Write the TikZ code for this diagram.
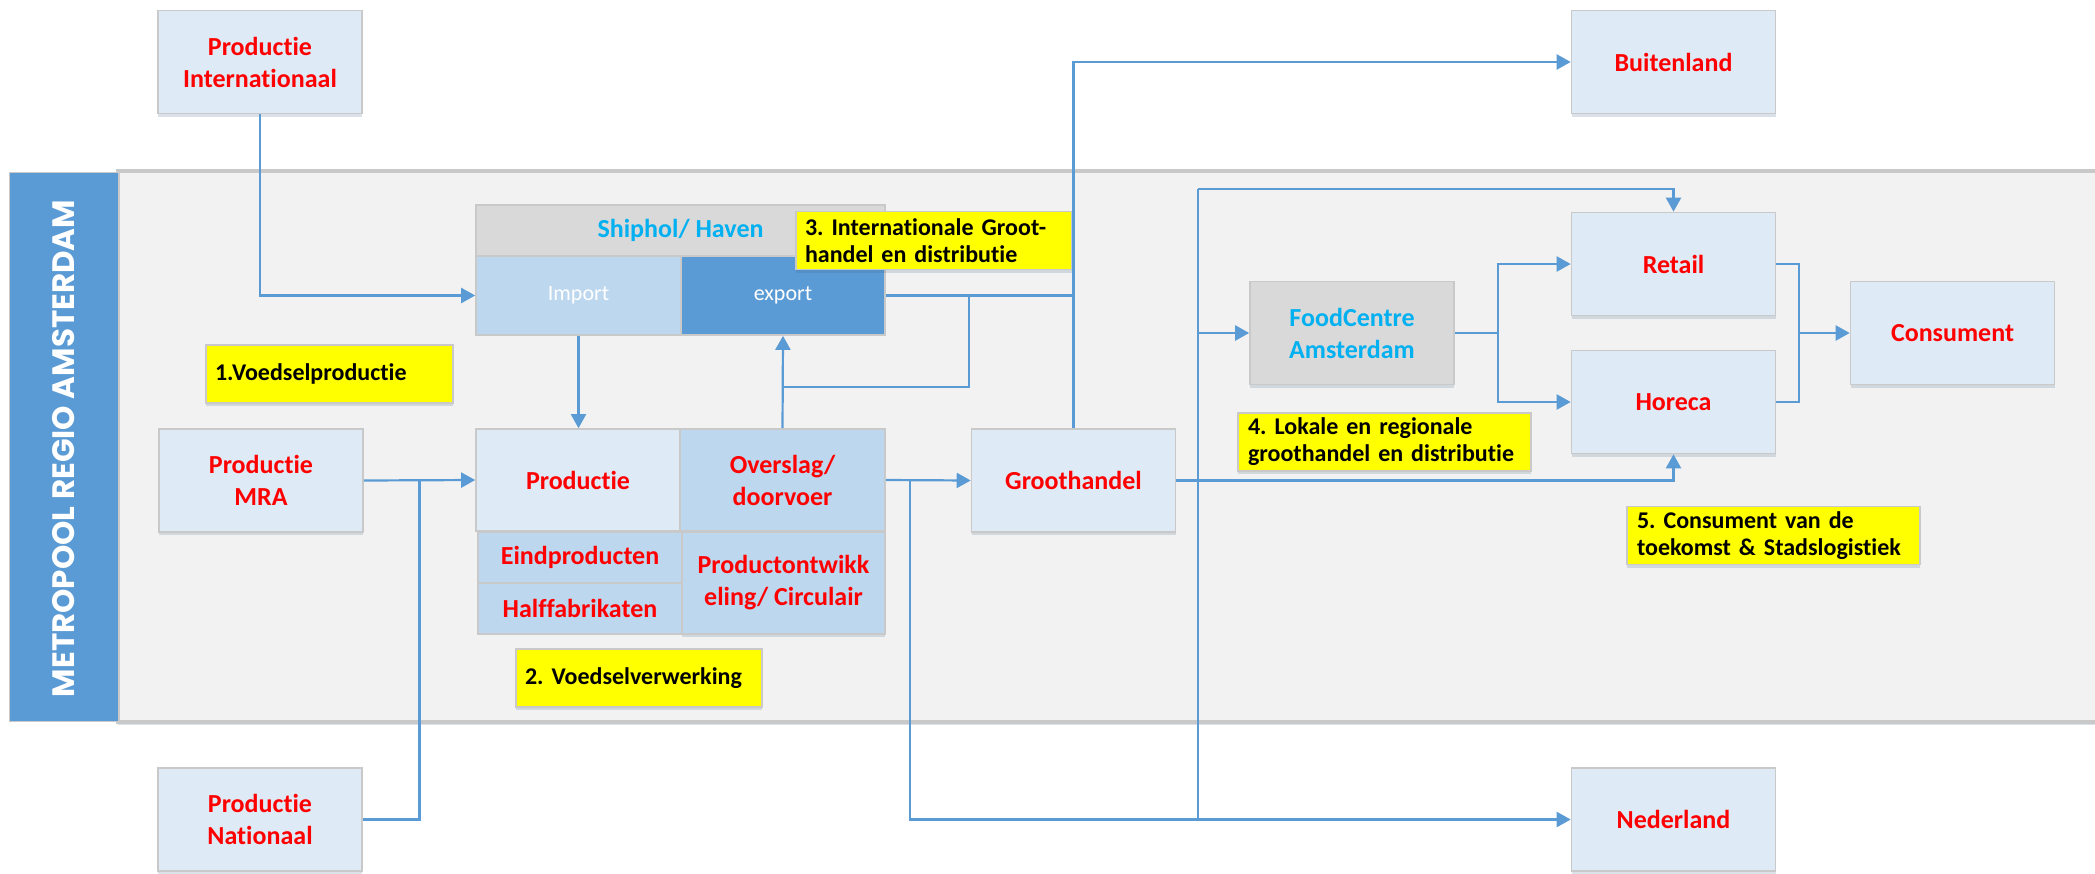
\documentclass[tikz,border=0pt]{standalone}
\usepackage{fontspec}
\setmainfont{Carlito}[Ligatures={NoCommon}]
\newfontfamily\bandfont{Poppins}
\usetikzlibrary{arrows.meta,shadows,calc}
\frenchspacing

\definecolor{boxfill}{HTML}{DEEAF6}
\definecolor{midblue}{HTML}{BDD7EE}
\definecolor{accblue}{HTML}{5B9BD5}
\definecolor{hdrgrey}{HTML}{D9D9D9}
\definecolor{edgegrey}{HTML}{C9C9C9}
\definecolor{regiongrey}{HTML}{F2F2F2}
\definecolor{txtblue}{HTML}{00B0F0}
\definecolor{txtred}{HTML}{FF0000}
\definecolor{labelyellow}{HTML}{FFFF00}

\tikzset{
  shade/.style={drop shadow={shadow xshift=0pt,shadow yshift=-3pt,opacity=0.18,fill=accblue!60!black}},
  cell/.style={draw=edgegrey, line width=1.6pt, inner sep=0pt, align=center,
    font=\fontsize{26}{32}\selectfont\bfseries, text=txtred},
  unit/.style={cell, shade, fill=boxfill, minimum width=204pt, minimum height=103pt},
  lightcell/.style={cell, fill=boxfill},
  midcell/.style={cell, fill=midblue},
  greycell/.style={cell, fill=hdrgrey, text=txtblue},
  portcell/.style={cell, font=\fontsize{22}{28}\selectfont, text=white},
  note/.style={draw=edgegrey, line width=1.2pt, fill=labelyellow, shade, inner ysep=0pt,
    align=left, minimum height=58pt, font=\fontsize{24}{27}\selectfont\bfseries, text=black},
  conn/.style={draw=accblue, line width=2.2pt},
  arr/.style={conn, -{Triangle[length=14pt,width=15pt]}}
}

\begin{document}
\begin{tikzpicture}[x=1pt,y=-1pt]
  \useasboundingbox (0,0) rectangle (2095,873);
  \fill[white] (0,0) rectangle (2095,873);

  % metropolitan region panel and its side band
  \node[draw=edgegrey, line width=3.5pt, fill=regiongrey, shade, inner sep=0pt,
        minimum width=1992pt, minimum height=551pt] (region) at (1114,446.5) {};
  \node[draw=edgegrey, line width=1pt, fill=accblue, inner sep=0pt,
        minimum width=109pt, minimum height=549pt] (band) at (63.5,446.5) {};
  \node[rotate=90, text=white, inner sep=0pt] (bandtxt) at (64,448.5)
        {\resizebox{497pt}{!}{\bandfont\bfseries METROPOOL REGIO AMSTERDAM}};

  % outer producers and destinations
  \node[unit] (pint) at (260,62)     {Productie\\Internationaal};
  \node[unit] (pmra) at (261,480.5)  {Productie\\MRA};
  \node[unit] (pnat) at (260,819.5)  {Productie\\Nationaal};
  \node[unit] (buit) at (1673.5,62)  {Buitenland};
  \node[unit] (ned)  at (1673.5,819.5) {Nederland};

  % airport / port block
  \node[greycell, shade, minimum width=409pt, minimum height=51pt] (hub) at (680.5,230.5) {Shiphol/ Haven};
  \node[portcell, fill=midblue, minimum width=205pt, minimum height=79pt] (imp) at (578.5,295.5) {Import};
  \node[portcell, fill=accblue, minimum width=204pt, minimum height=79pt] (exp) at (783,295.5) {export};

  % processing block
  \node[lightcell, minimum width=204pt, minimum height=102pt] (prod) at (578,480) {Productie};
  \node[midcell, minimum width=205pt, minimum height=102pt] (over) at (782.5,480) {Overslag/\\doorvoer};
  \node[midcell, minimum width=204pt, minimum height=51pt] (eind) at (580,557.5) {Eindproducten};
  \node[midcell, minimum width=204pt, minimum height=51pt] (half) at (580,608.5) {Halffabrikaten};
  \node[midcell, shade, minimum width=203pt, minimum height=102pt] (pont) at (783.5,583) {Productontwikk\\eling/ Circulair};

  % wholesale and consumption chain
  \node[unit] (groot) at (1073.5,480.5) {Groothandel};
  \node[greycell, shade, minimum width=204pt, minimum height=103pt] (fc) at (1352,333) {FoodCentre\\Amsterdam};
  \node[unit] (ret)  at (1673.5,264) {Retail};
  \node[unit] (hor)  at (1673.5,402) {Horeca};
  \node[unit] (cons) at (1952.5,333) {Consument};

  % numbered stage labels
  \node[note, text width=229pt, inner xsep=9pt]  (n1) at (329.5,374)  {1.Voedselproductie};
  \node[note, text width=228pt, inner xsep=9pt]  (n2) at (639,678)    {2. Voedselverwerking};
  \node[note, text width=258pt, inner xsep=9pt]  (n3) at (934,240.5)  {3. Internationale Groot-\\handel en distributie};
  \node[note, text width=273pt, inner xsep=10pt] (n4) at (1384.5,442) {4. Lokale en regionale\\groothandel en distributie};
  \node[note, text width=273pt, inner xsep=10pt] (n5) at (1773.5,535.5) {5. Consument van de\\toekomst \& Stadslogistiek};

  % flows into processing
  \draw[arr] (pint.south) |- (imp.west);
  \draw[arr] (imp.south) -- (imp.south |- prod.north);
  \draw[arr] (pmra.east) -- (prod.west);
  \coordinate (jn) at ($(pmra.east)!0.5!(prod.west)$);
  \draw[conn] (pnat.east) -| (jn);

  % export and international flows
  \draw[arr] (over.north) -- (exp.south);
  \coordinate (b1) at ($(over.north)!0.447!(exp.south)$);
  \coordinate (b2) at ($(exp.east)+(83,0)$);
  \draw[conn] (b1) -| (b2);
  \draw[conn] (exp.east) -- (exp.east -| groot.north);
  \draw[arr] (groot.north) |- (buit.west);

  % transhipment to wholesale and the Netherlands
  \draw[arr] (over.east) -- (groot.west);
  \coordinate (nl1) at ($(over.east)+(24,0)$);
  \draw[arr] (nl1) |- (ned.west);

  % local distribution
  \draw[arr] (groot.east) -| (hor.south);
  \coordinate (vtop) at (1198,189.3);
  \draw[arr] (vtop) -| (ret.north);
  \draw[conn] (vtop) -- (vtop |- ned.west);
  \draw[arr] (vtop |- fc.west) -- (fc.west);
  \coordinate (fcs) at ($(fc.east)+(43,0)$);
  \draw[conn] (fc.east) -- (fcs);
  \draw[arr] (fcs) |- (ret.west);
  \draw[arr] (fcs) |- (hor.west);

  % to the consumer
  \coordinate (cs) at ($(ret.east)+(23,0)$);
  \draw[conn] (ret.east) -| (cs |- cons.west);
  \draw[conn] (hor.east) -| (cs |- cons.west);
  \draw[arr] (cs |- cons.west) -- (cons.west);
\end{tikzpicture}
\end{document}
